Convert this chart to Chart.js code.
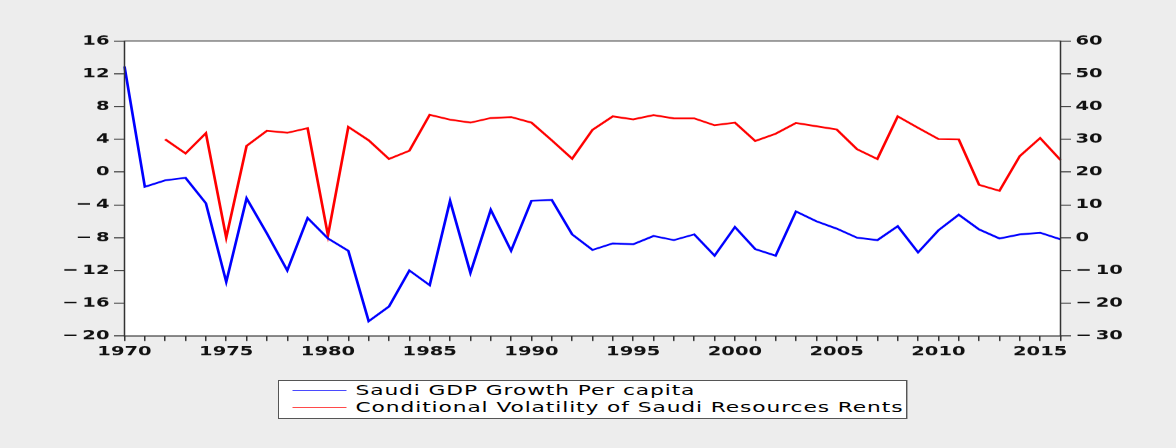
<!DOCTYPE html>
<html>
<head>
<meta charset="utf-8">
<script src="https://cdn.jsdelivr.net/npm/chart.js@4.4.1/dist/chart.umd.min.js"></script>
<style>
    html, body { margin: 0; padding: 0; background: #ededed; }
    body { width: 1176px; height: 448px; overflow: hidden; position: relative; }
    /* el grafico original esta estirado en horizontal, se reproduce con scaleX */
    #wrap {
        position: absolute; left: 0; top: 0;
        width: 784px; height: 448px;
        transform: scaleX(1.5); transform-origin: 0 0;
    }
    #chart { position: absolute; left: 0; top: 0; }
    #legend {
        position: absolute; left: 185px; top: 380px;
        width: 420px; height: 39px; box-sizing: border-box;
        border: 1px solid #555; background: #fff;
        font-family: "DejaVu Sans", sans-serif; font-size: 14.5px;
        letter-spacing: 0.6px; color: #000;
    }
    .row { position: absolute; left: 0; height: 17px; line-height: 17px; white-space: nowrap; }
    .row .sample { position: absolute; left: 9px; top: 8px; width: 36px; height: 1.3px; }
    .row span.txt { position: absolute; left: 51px; top: 0; }
</style>
</head>
<body>
<div id="wrap">
    <canvas id="chart" width="784" height="448"></canvas>
    <div id="legend">
        <div class="row" style="top:1px"><div class="sample" style="background:#4a4aff"></div><span class="txt">Saudi GDP Growth Per capita</span></div>
        <div class="row" style="top:18px"><div class="sample" style="background:#ff4a4a"></div><span class="txt">Conditional Volatility of Saudi Resources Rents</span></div>
    </div>
</div>
<script>
// Datos
const years = [
    1970, 1971, 1972, 1973, 1974, 1975, 1976, 1977, 1978, 1979,
    1980, 1981, 1982, 1983, 1984, 1985, 1986, 1987, 1988, 1989,
    1990, 1991, 1992, 1993, 1994, 1995, 1996, 1997, 1998, 1999,
    2000, 2001, 2002, 2003, 2004, 2005, 2006, 2007, 2008, 2009,
    2010, 2011, 2012, 2013, 2014, 2015, 2016
];

// Eje izquierdo
const gdpGrowth = [
    12.9, -1.8, -1.0, -0.7, -3.8, -13.4, -3.2, -7.5, -12.0, -5.6,
    -8.1, -9.6, -18.2, -16.4, -12.0, -13.8, -3.5, -12.3, -4.6, -9.6,
    -3.5, -3.4, -7.6, -9.5, -8.7, -8.8, -7.8, -8.3, -7.6, -10.2,
    -6.7, -9.4, -10.2, -4.8, -6.0, -6.9, -8.0, -8.3, -6.6, -9.8,
    -7.1, -5.2, -7.0, -8.1, -7.6, -7.4, -8.2
];

// Eje derecho (empieza en 1972)
const volatility = [
    null, null, 30.0, 25.7, 31.9, 0.0, 28.0, 32.6, 32.0, 33.4,
    0.7, 33.8, 29.7, 24.0, 26.5, 37.5, 36.0, 35.1, 36.5, 36.8,
    35.1, 29.7, 24.1, 32.9, 37.0, 36.1, 37.4, 36.4, 36.4, 34.3,
    35.1, 29.5, 31.7, 35.0, 34.0, 33.0, 27.0, 24.0, 37.0, 33.5,
    30.1, 30.0, 16.1, 14.3, 24.9, 30.4, 23.7
];

const leftRange = { min: -20, max: 16, step: 4 };
const rightRange = { min: -30, max: 60, step: 10 };

function minusLabel(v) {
    return v < 0 ? "\u2212\u2009" + (-v) : String(v);
}

// fondo blanco y marco del area del grafico
const frame = {
    id: "frame",
    beforeDraw(chart) {
        const a = chart.chartArea;
        const ctx = chart.ctx;
        ctx.save();
        ctx.fillStyle = "#ffffff";
        ctx.fillRect(a.left, a.top, a.right - a.left, a.bottom - a.top);
        ctx.restore();
    },
    afterDraw(chart) {
        const a = chart.chartArea;
        const ctx = chart.ctx;
        ctx.save();
        ctx.strokeStyle = "#333333";
        ctx.lineWidth = 1;
        ctx.strokeRect(a.left, a.top, a.right - a.left, a.bottom - a.top);
        ctx.restore();
    }
};

const tickFont = { family: "DejaVu Sans", size: 13, weight: "bold" };

new Chart(document.getElementById("chart"), {
    type: "line",
    data: {
        labels: years,
        datasets: [
            {
                label: "Saudi GDP Growth Per capita",
                data: gdpGrowth,
                borderColor: "#0000ff",
                borderWidth: 1.8,
                pointRadius: 0,
                tension: 0,
                yAxisID: "yLeft"
            },
            {
                label: "Conditional Volatility of Saudi Resources Rents",
                data: volatility,
                borderColor: "#ff0000",
                borderWidth: 1.8,
                pointRadius: 0,
                tension: 0,
                spanGaps: false,
                yAxisID: "yRight"
            }
        ]
    },
    options: {
        responsive: false,
        animation: false,
        devicePixelRatio: 1.5,
        layout: { padding: { left: 0, right: 0, top: 41, bottom: 82 } },
        plugins: {
            legend: { display: false },
            tooltip: { enabled: false }
        },
        scales: {
            x: {
                type: "category",
                offset: false,
                border: { display: false },
                grid: { drawOnChartArea: false, tickLength: 5, color: "#333333" },
                ticks: {
                    autoSkip: false,
                    maxRotation: 0,
                    padding: 3,
                    color: "#111111",
                    font: tickFont,
                    callback: function (val, i) {
                        return years[i] % 5 === 0 ? String(years[i]) : "";
                    }
                },
                afterFit: function (scale) { scale.height = 30; }
            },
            yLeft: {
                position: "left",
                min: leftRange.min,
                max: leftRange.max,
                border: { display: false },
                grid: { drawOnChartArea: false, tickLength: 7, color: "#333333" },
                ticks: {
                    stepSize: leftRange.step,
                    padding: 3,
                    color: "#111111",
                    font: tickFont,
                    callback: minusLabel
                },
                afterFit: function (scale) { scale.width = 83; }
            },
            yRight: {
                position: "right",
                min: rightRange.min,
                max: rightRange.max,
                border: { display: false },
                grid: { drawOnChartArea: false, tickLength: 7, color: "#333333" },
                ticks: {
                    stepSize: rightRange.step,
                    padding: 3,
                    color: "#111111",
                    font: tickFont,
                    callback: minusLabel
                },
                afterFit: function (scale) { scale.width = 77; }
            }
        }
    },
    plugins: [frame]
});
</script>
</body>
</html>
